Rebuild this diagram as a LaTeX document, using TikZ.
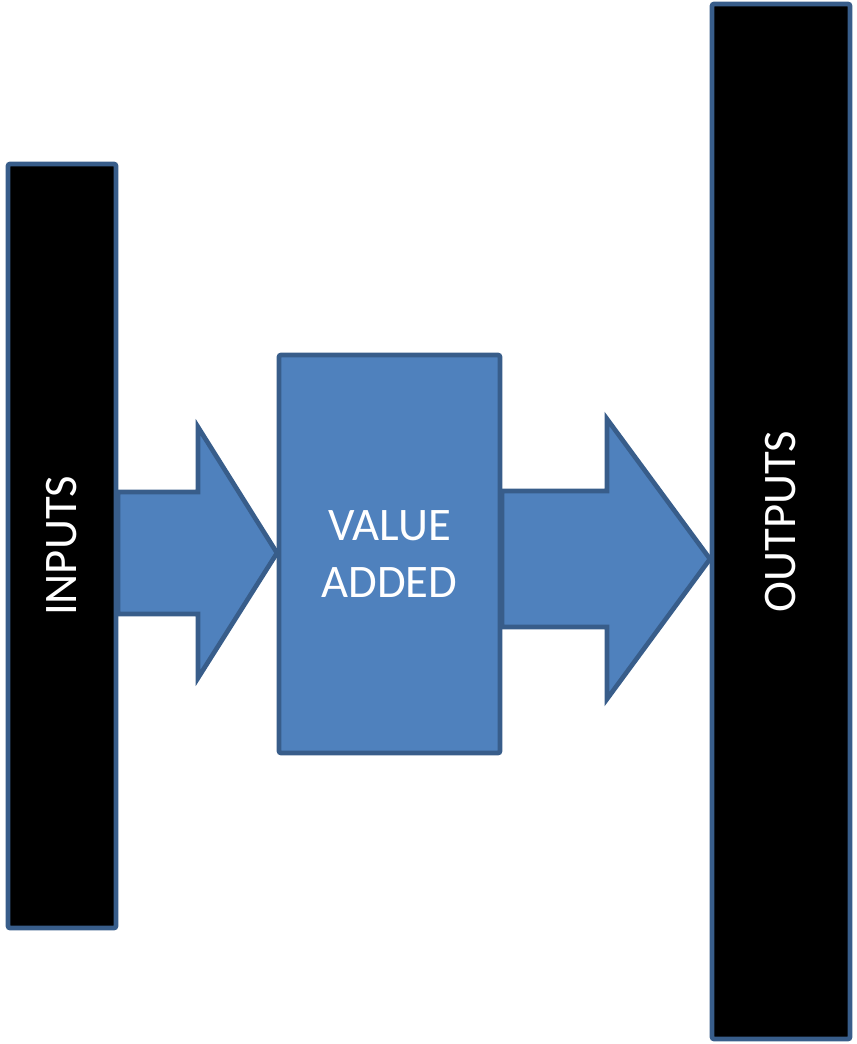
\documentclass[tikz,border=0pt]{standalone}
\usepackage{fontspec}
\setmainfont{Carlito}
\usepackage{tikz}
\usetikzlibrary{calc}
\usetikzlibrary{positioning}
\definecolor{boxblue}{HTML}{4F81BD}
\definecolor{edgeblue}{HTML}{385D8A}
\tikzset{
	bar/.style={draw=edgeblue, fill=black, line width=3.5pt, rounded corners=1.5pt,
		inner sep=0pt, text=white, font=\fontsize{35}{43}\selectfont},
	valuebox/.style={draw=edgeblue, fill=boxblue, line width=3.5pt, rounded corners=1.5pt,
		inner sep=0pt, text=white, align=center, font=\fontsize{35}{43}\selectfont},
	flow/.style={draw=edgeblue, fill=boxblue, line width=3.5pt, line join=miter},
}

\begin{document}
\begin{tikzpicture}[x=0.75pt, y=-0.75pt]
			\useasboundingbox (0,0) rectangle (856,1044);
			% Arrows
			\coordinate (intip) at (277,553);
			\coordinate (outtip) at (710,559);
			\draw [flow] (intip) -- ++(-79,-126) -- ++(0,65) -- ++(-80,0) -- ++(0,122)
				-- ++(80,0) -- ++(0,64) -- cycle;
			\draw [flow] (outtip) -- ++(-103,-140) -- ++(0,72) -- ++(-105,0) -- ++(0,136)
				-- ++(105,0) -- ++(0,72) -- cycle;
			% Bars
			\node [bar, minimum width=81pt, minimum height=573pt] (inputs) at (62,546)
				{\rotatebox{90}{INPUTS}};
			\node [bar, minimum width=103.5pt, minimum height=776.25pt] (outputs) at (781,521.5)
				{\rotatebox{90}{OUTPUTS}};
			% Middle box
			\node [valuebox, minimum width=165.75pt, minimum height=298.5pt] (value) at (389.5,554)
				{VALUE\\ADDED};
		\end{tikzpicture}
\end{document}
